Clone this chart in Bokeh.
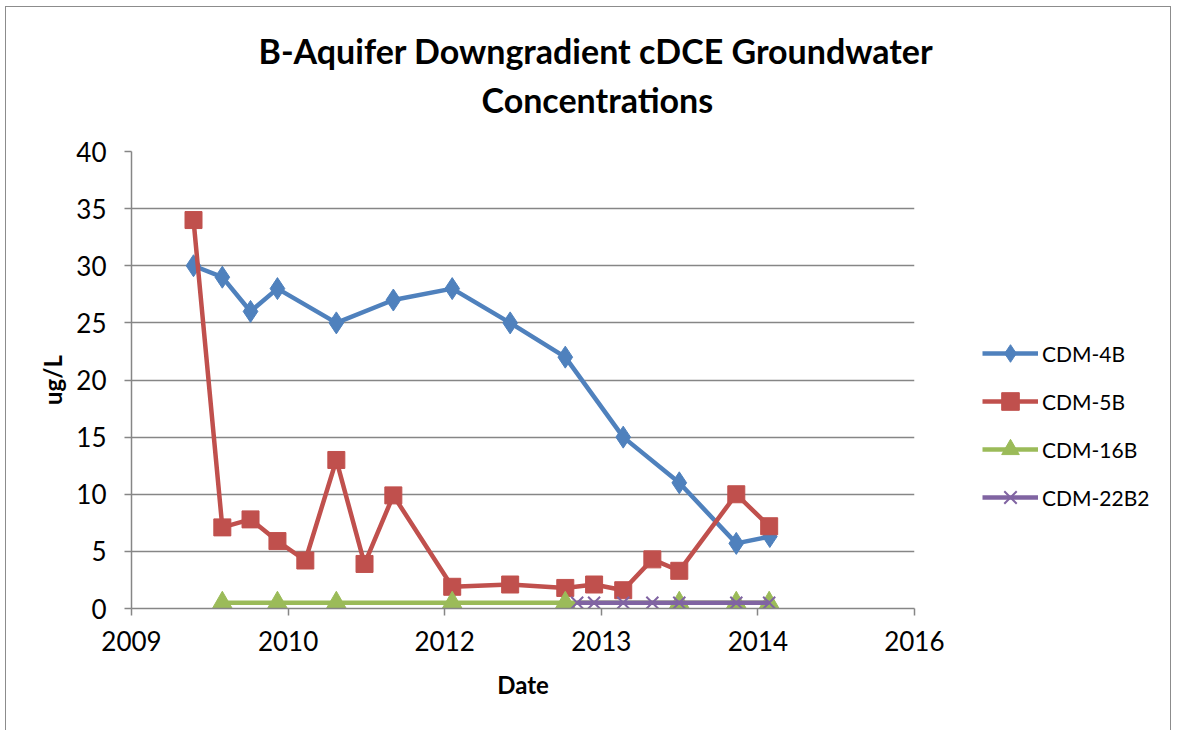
from datetime import datetime
from bokeh.plotting import figure
from bokeh.layouts import row
from bokeh.models import (Range1d, FixedTicker, DatetimeTickFormatter, Legend,
                          LegendItem, Title)
from bokeh.embed import file_html
from bokeh.resources import INLINE

title_lines = ["B-Aquifer Downgradient cDCE  Groundwater", "Concentrations"]
x_label = "Date"
y_label = "ug/L"

cdm4b_dates = ["2009-10-30", "2010-01-30", "2010-04-30", "2010-07-25", "2011-01-29",
               "2011-07-30", "2012-02-03", "2012-08-06", "2013-01-29", "2013-08-02",
               "2014-01-28", "2014-07-29", "2014-11-13"]
cdm4b_vals = [30, 29, 26, 28, 25, 27, 28, 25, 22, 15, 11, 5.7, 6.3]

cdm5b_dates = ["2009-10-30", "2010-01-30", "2010-04-30", "2010-07-25", "2010-10-22",
               "2011-01-29", "2011-04-29", "2011-07-30", "2012-02-03", "2012-08-06",
               "2013-01-29", "2013-05-01", "2013-08-02", "2013-11-03", "2014-01-28",
               "2014-07-29", "2014-11-11"]
cdm5b_vals = [34, 7.1, 7.8, 5.9, 4.2, 13, 3.9, 9.9, 1.9, 2.1, 1.8, 2.1, 1.6, 4.3,
              3.3, 10, 7.2]

cdm16b_dates = ["2010-01-30", "2010-07-25", "2011-01-29", "2012-02-03", "2013-01-29",
                "2014-01-28", "2014-07-29", "2014-11-11"]
cdm16b_vals = [0.5, 0.5, 0.5, 0.5, 0.5, 0.5, 0.5, 0.5]

cdm22b2_dates = ["2013-03-08", "2013-05-01", "2013-08-02", "2013-11-03", "2014-01-28",
                 "2014-07-29", "2014-11-11"]
cdm22b2_vals = [0.5, 0.5, 0.5, 0.5, 0.5, 0.5, 0.5]

x_tick_dates = ["2009-04-15", "2010-08-28", "2012-01-10", "2013-05-24",
                "2014-10-06", "2016-02-18"]
y_ticks = [0, 5, 10, 15, 20, 25, 30, 35, 40]

series_names = ["CDM-4B", "CDM-5B", "CDM-16B", "CDM-22B2"]
colors = ["#4F81BD", "#C0504D", "#9BBB59", "#8064A2"]

EPOCH = datetime(1970, 1, 1)


def to_dt(s):
    return datetime.strptime(s, "%Y-%m-%d")


def to_ms(s):
    return (to_dt(s) - EPOCH).total_seconds() * 1000.0


FONT = "Lato"

p = figure(width=938, height=723, x_axis_type="datetime",
           x_range=Range1d(to_ms(x_tick_dates[0]), to_ms(x_tick_dates[-1])),
           y_range=Range1d(y_ticks[0], y_ticks[-1]),
           output_backend="svg", toolbar_location=None,
           min_border_left=125, min_border_right=30,
           min_border_top=144, min_border_bottom=122)
p.outline_line_color = None
p.background_fill_color = "white"
p.border_fill_color = "white"

# axes
p.xaxis.ticker = FixedTicker(ticks=[to_ms(d) for d in x_tick_dates])
p.xaxis.formatter = DatetimeTickFormatter(
    milliseconds="%Y", seconds="%Y", minsec="%Y", minutes="%Y", hourmin="%Y",
    hours="%Y", days="%Y", months="%Y", years="%Y")
p.yaxis.ticker = FixedTicker(ticks=y_ticks)
for ax in (p.xaxis[0], p.yaxis[0]):
    ax.axis_line_color = "#868686"
    ax.axis_line_width = 1.5
    ax.major_tick_line_color = "#868686"
    ax.major_tick_line_width = 1.5
    ax.major_tick_out = 7
    ax.major_tick_in = 0
    ax.minor_tick_out = 0
    ax.minor_tick_in = 0
    ax.major_label_text_font = FONT
    ax.major_label_text_font_size = "26px"
    ax.major_label_text_color = "black"
    ax.axis_label_text_font = FONT
    ax.axis_label_text_font_size = "24px"
    ax.axis_label_text_font_style = "bold"
    ax.axis_label_text_color = "black"
p.yaxis.major_label_standoff = 18
p.xaxis.major_label_standoff = 15
p.xaxis.axis_label = x_label
p.yaxis.axis_label = y_label
p.xaxis.axis_label_standoff = 16
p.yaxis.axis_label_standoff = 6

p.xgrid.visible = False
p.ygrid.ticker = FixedTicker(ticks=y_ticks)
p.ygrid.grid_line_color = "#868686"
p.ygrid.grid_line_width = 1.5

all_dates = [cdm4b_dates, cdm5b_dates, cdm16b_dates, cdm22b2_dates]
all_vals = [cdm4b_vals, cdm5b_vals, cdm16b_vals, cdm22b2_vals]
marker_specs = [
    dict(marker="diamond", size=22),
    dict(marker="square", size=17),
    dict(marker="triangle", size=20),
    dict(marker="x", size=17, line_width=2),
]


def draw_series(fig, col, xs, vals, ms):
    ln = fig.line(xs, vals, line_color=col, line_width=4.5, line_join="round")
    kw = dict(ms)
    fill = None if ms["marker"] == "x" else col
    sc = fig.scatter(xs, vals, line_color=col, fill_color=fill, **kw)
    return ln, sc


for col, dates, vals, ms in zip(colors, all_dates, all_vals, marker_specs):
    draw_series(p, col, [to_dt(d) for d in dates], vals, ms)

# "above" panels stack outward from the frame
p.add_layout(Title(text=" ", text_font_size="10px", standoff=19), "above")
p.add_layout(Title(text=title_lines[1], align="left", offset=350, standoff=0,
                   text_font=FONT, text_font_size="34px", text_font_style="bold",
                   text_color="black"), "above")
p.add_layout(Title(text=title_lines[0], align="left", offset=127, standoff=12,
                   text_font=FONT, text_font_size="34px", text_font_style="bold",
                   text_color="black"), "above")

# legend panel: same series (their data lie outside this panel's ranges,
# so only the legend swatches are visible)
lf = figure(width=226, height=723, output_backend="svg", toolbar_location=None,
            x_range=Range1d(0, 1), y_range=Range1d(0, 1),
            x_axis_location=None, y_axis_location=None,
            min_border_left=0, min_border_right=0, min_border_top=0,
            min_border_bottom=0)
lf.outline_line_color = None
lf.grid.visible = False
lf.background_fill_color = "white"
lf.border_fill_color = "white"

items = []
for name, col, dates, vals, ms in zip(series_names, colors, all_dates, all_vals, marker_specs):
    ln, sc = draw_series(lf, col, [to_dt(d) for d in dates], vals, ms)
    items.append(LegendItem(label=name, renderers=[ln, sc]))

legend = Legend(items=items, location=(38, 89), margin=0, padding=0,
                glyph_width=56, glyph_height=44, label_height=44,
                spacing=4, label_standoff=4, label_text_font=FONT,
                label_text_font_size="21px", label_text_color="black",
                border_line_color=None, background_fill_alpha=0)
lf.add_layout(legend, "center")

layout = row(p, lf, spacing=0, margin=(6, 0, 0, 5))
layout.styles = {"border": "1px solid #8c8c8c"}

open("out.html", "w").write(file_html(layout, INLINE))
